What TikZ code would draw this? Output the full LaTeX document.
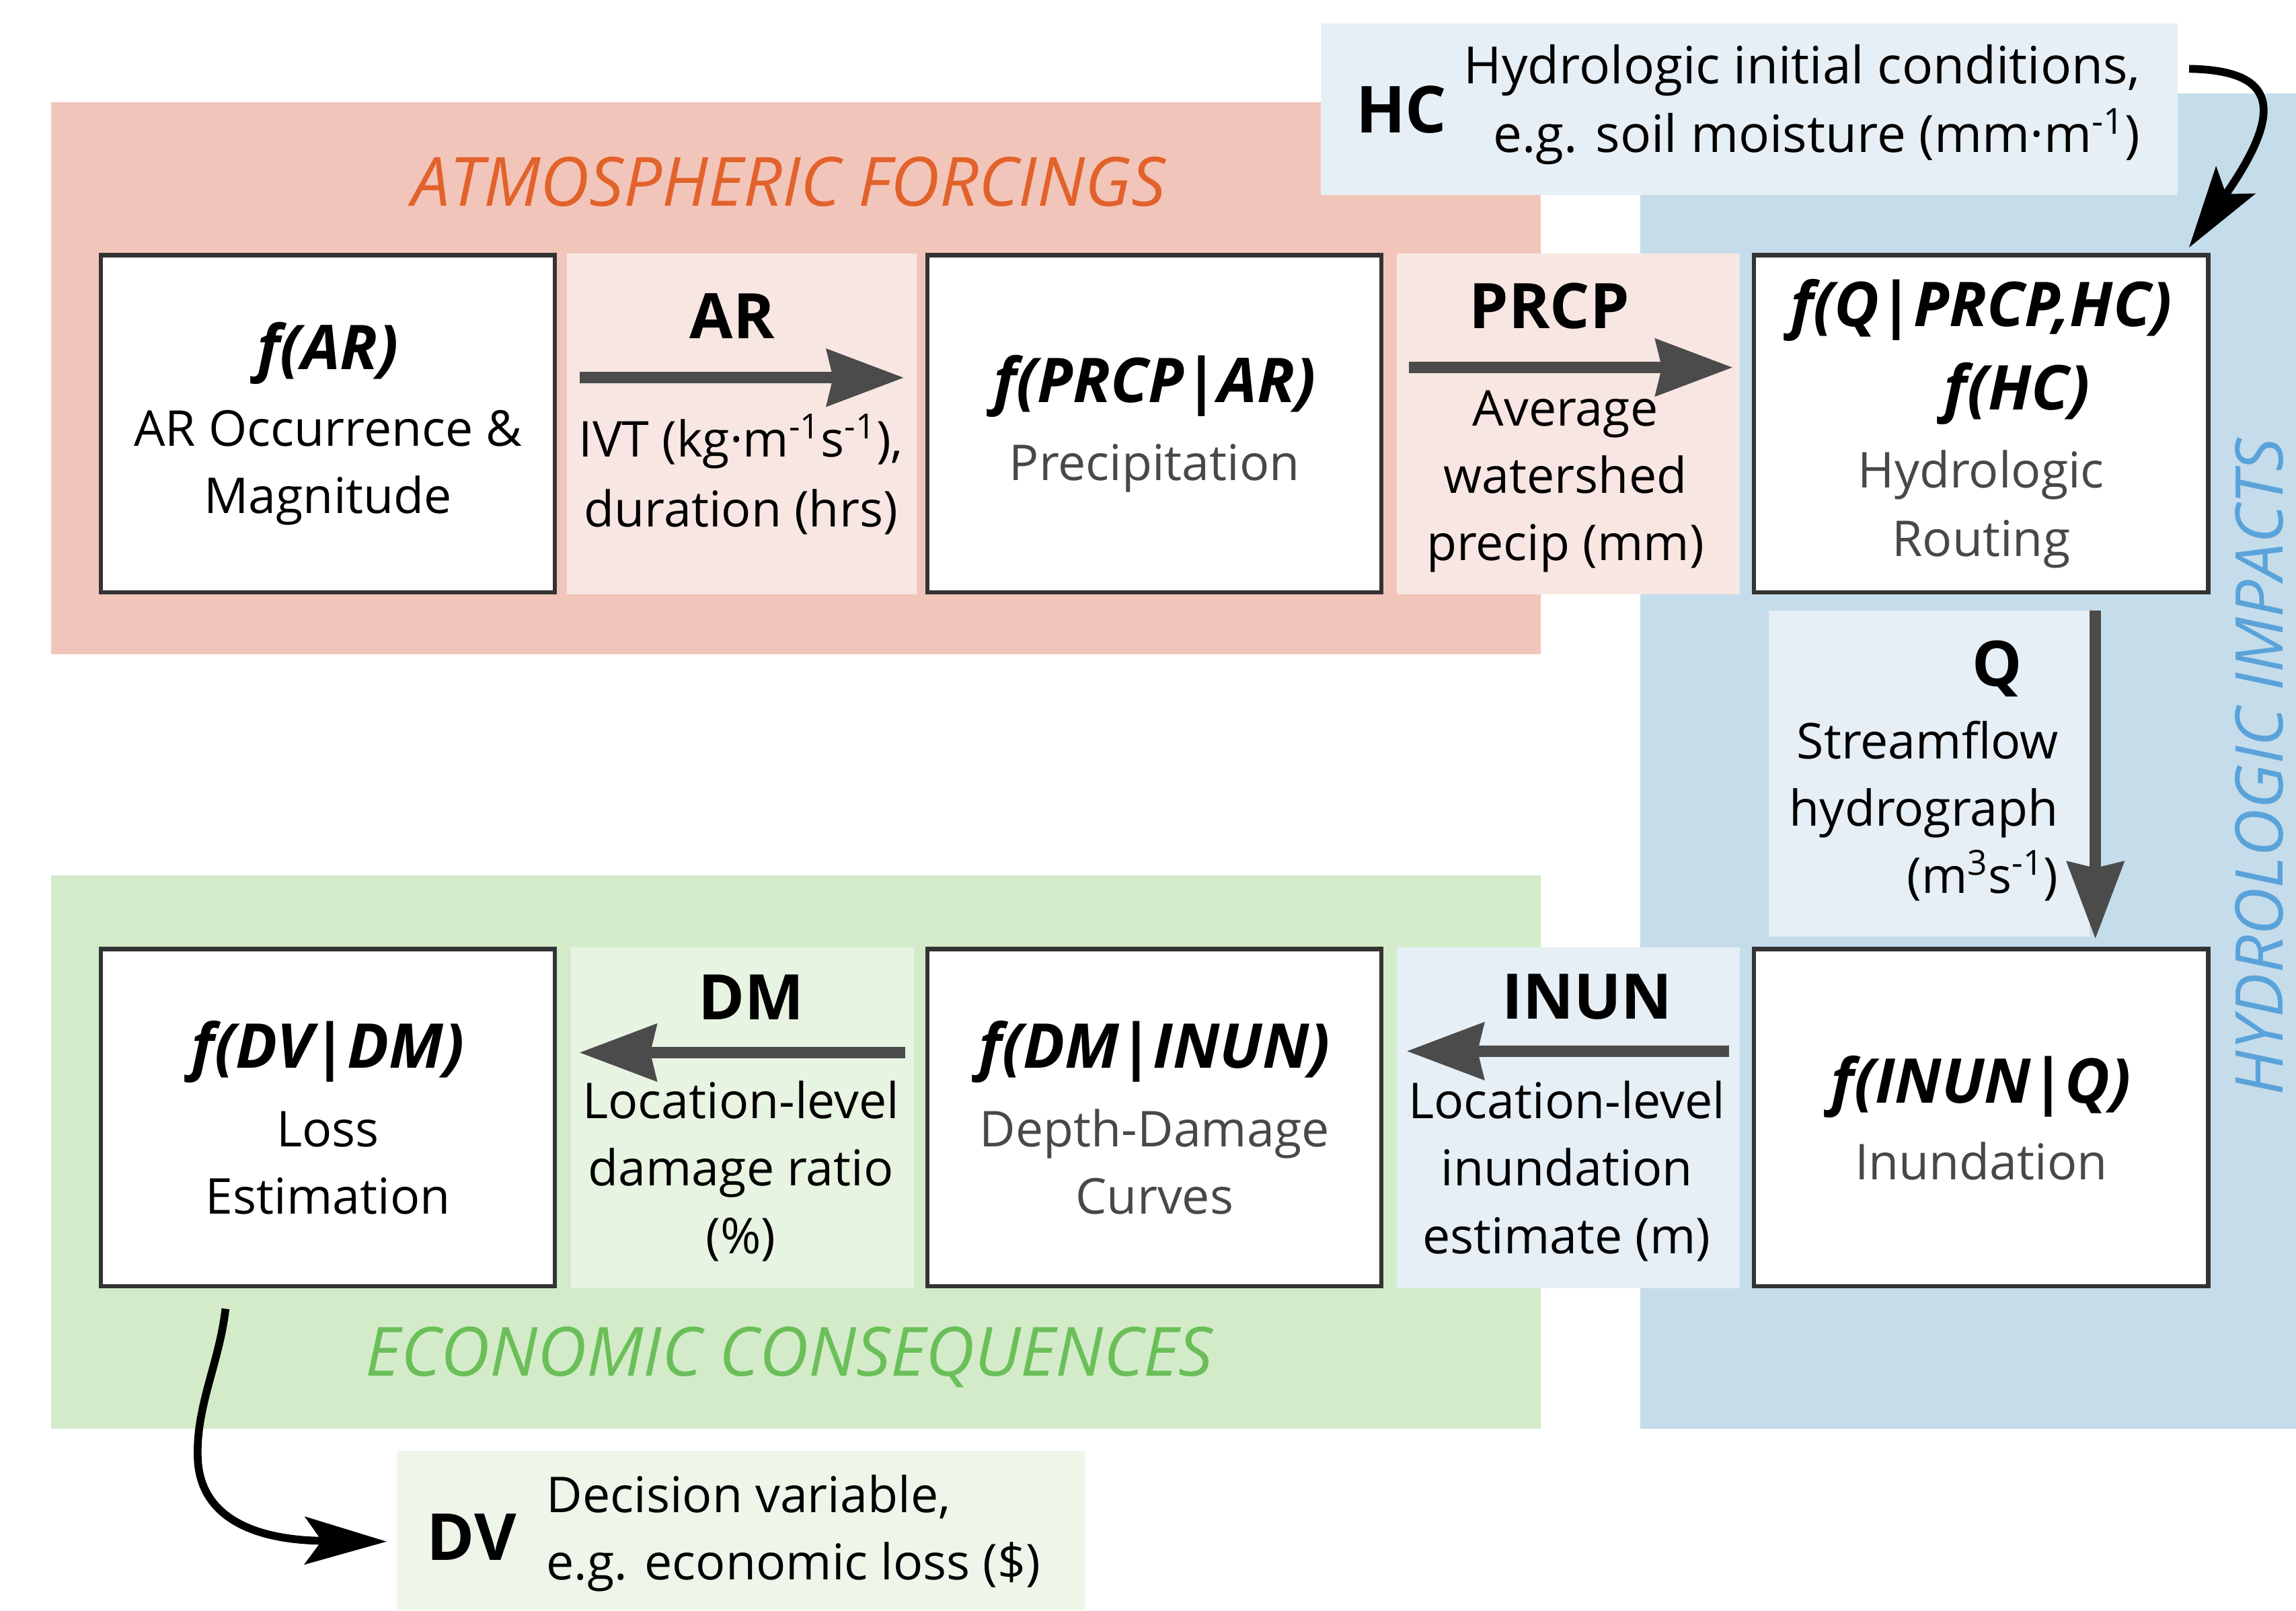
\documentclass[tikz,border=0pt]{standalone}
\usepackage{fontspec}
\setmainfont{Open Sans}
\usetikzlibrary{arrows.meta}

% zone and panel colours
\definecolor{atmoszone}{HTML}{F2C5BA}
\definecolor{atmospanel}{HTML}{F8E6E2}
\definecolor{hydrozone}{HTML}{C5DCEA}
\definecolor{hydropanel}{HTML}{E6EFF5}
\definecolor{econzone}{HTML}{D4EBCA}
\definecolor{econpanel}{HTML}{E8F4E2}
\definecolor{dvpanel}{HTML}{EEF6EA}
% text and line colours
\definecolor{atmostext}{HTML}{E2622B}
\definecolor{hydrotext}{HTML}{5AA3DA}
\definecolor{econtext}{HTML}{6BBF59}
\definecolor{flowgray}{HTML}{4B4B4B}
\definecolor{framegray}{HTML}{333333}
\definecolor{subgray}{HTML}{484848}

\newcommand\titlefnt{\fontsize{30}{34}\selectfont\bfseries\itshape}
\newcommand\zonefnt{\fontsize{33}{38}\selectfont\itshape}
\newcommand\varfnt{\fontsize{30.5}{36}\selectfont\bfseries}
\newcommand\bodyfnt{\fontsize{24}{32.7}\selectfont}

\tikzset{
  fnbox/.style={draw=framegray, line width=2pt, fill=white,
    minimum width=7.75cm, minimum height=5.76cm, inner sep=0pt,
    align=center, font=\bodyfnt},
  varlabel/.style={font=\varfnt, inner sep=0pt},
  desc/.style={font=\bodyfnt, align=center, inner sep=0pt},
  zonetitle/.style={font=\zonefnt, inner sep=0pt},
  flowarrow/.style={draw=flowgray, line width=5.7pt,
    -{Stealth[length=37.7pt, width=28.5pt, inset=3.5pt, line width=0pt]}},
  linkarrow/.style={draw=black, line width=3.8pt,
    -{Stealth[length=40pt, width=23.5pt, inset=8.5pt, line width=0pt]}},
}

\begin{document}
\begin{tikzpicture}[x=0.025cm, y=-0.025cm]
\useasboundingbox (0,0) rectangle (1568,1100);
\fill[white] (0,0) rectangle (1568,1100);

% background zones
\fill[atmoszone] (35,70) rectangle (1052,447);
\fill[hydrozone] (1120,64) rectangle (1568,976);
\fill[econzone] (35,598) rectangle (1052,976);

% input and output boxes
\fill[hydropanel] (902,16) rectangle (1487,133);
\fill[dvpanel] (271,991) rectangle (741,1100);

% variable panels between the function boxes
\fill[atmospanel] (387,173) rectangle (626,406);
\fill[atmospanel] (954,173) rectangle (1188,406);
\fill[hydropanel] (1208,417) rectangle (1427,640);
\fill[econpanel] (390,647) rectangle (624,880);
\fill[hydropanel] (954,647) rectangle (1188,880);

% zone titles
\node[zonetitle, text=atmostext] (tAtmos) at (538.5,124) {ATMOSPHERIC FORCINGS};
\node[zonetitle, text=econtext] (tEcon) at (539,927) {ECONOMIC CONSEQUENCES};
\node[zonetitle, font=\fontsize{32}{38}\selectfont\itshape, text=hydrotext, rotate=90]
  (tHydro) at (1543,524) {HYDROLOGIC IMPACTS};

% function boxes
\node[fnbox] (fAR) at (224,289.5)
  {{\titlefnt f(AR)}\\[4.5pt] AR Occurrence \&\\ Magnitude};
\node[fnbox] (fPRCP) at (788.5,289.5)
  {{\titlefnt f(PRCP|AR)}\\[5pt] {\color{subgray}Precipitation}};
\node[fnbox] (fQ) at (1353,289.5)
  {{\titlefnt f(Q|PRCP,HC)}\\[7.8pt] {\titlefnt\hspace*{35pt}f(HC)}\\[5pt]
   {\color{subgray}Hydrologic}\\[0.7pt] {\color{subgray}Routing}};
\node[fnbox] (fDV) at (224,763.5)
  {{\titlefnt f(DV|DM)}\\[5.5pt] Loss\\ Estimation};
\node[fnbox] (fDM) at (788.5,763.5)
  {{\titlefnt f(DM|INUN)}\\[5.5pt] {\color{subgray}Depth-Damage}\\ {\color{subgray}Curves}};
\node[fnbox] (fINUN) at (1353,763.5)
  {{\titlefnt f(INUN|Q)}\\[4.5pt] {\color{subgray}Inundation}};

% variables passed between boxes
\node[varlabel] (vAR) at (500,216) {AR};
\node[desc, font=\fontsize{24}{34}\selectfont] (dAR) at (506,324)
  {IVT (kg·m\textsuperscript{-1}s\textsuperscript{-1}),\\ duration (hrs)};
\node[varlabel] (vPRCP) at (1058,209) {PRCP};
\node[desc] (dPRCP) at (1069,329) {Average\\ watershed\\ precip (mm)};
\node[varlabel] (vQ) at (1364,457) {Q};
\node[desc, align=right, anchor=east] (dQ) at (1406,554)
  {Streamflow\\ hydrograph\\ (m\textsuperscript{3}s\textsuperscript{-1})};
\node[varlabel] (vDM) at (513,681) {DM};
\node[desc] (dDM) at (506,800) {Location-level\\ damage ratio\\ (\%)};
\node[varlabel] (vINUN) at (1084,681) {INUN};
\node[desc] (dINUN) at (1070,800) {Location-level\\ inundation\\ estimate (m)};

% hydrologic initial conditions
\node[varlabel, font=\fontsize{31.5}{36}\selectfont\bfseries] (vHC) at (957,75) {HC};
\node[desc, align=right, anchor=east, font=\fontsize{25}{33.4}\selectfont] (dHC) at (1462,71.5)
  {Hydrologic initial conditions,\\ e.g. soil moisture (mm·m\textsuperscript{-1})};

% decision variable
\node[varlabel, font=\fontsize{31.5}{36}\selectfont\bfseries] (vDV) at (322,1050) {DV};
\node[desc, align=left, anchor=west] (dDV) at (373,1047.5)
  {Decision variable,\\ e.g. economic loss (\$)};

% flow arrows
\coordinate (arS) at (396,258);   \coordinate (arE) at (617,258);
\coordinate (prS) at (962,251);   \coordinate (prE) at (1183,251);
\coordinate (qS) at (1431,417);   \coordinate (qE) at (1431,641);
\coordinate (inS) at (1181,718);  \coordinate (inE) at (961,718);
\coordinate (dmS) at (618,719);   \coordinate (dmE) at (396,719);
\draw[flowarrow] (arS) -- (arE);
\draw[flowarrow] (prS) -- (prE);
\draw[flowarrow] (qS) -- (qE);
\draw[flowarrow] (inS) -- (inE);
\draw[flowarrow] (dmS) -- (dmE);

% links to the initial conditions and the decision variable
\coordinate (hcS) at (1495,47);   \coordinate (hcE) at (1495,169);
\coordinate (dvS) at (154,894);   \coordinate (dvM) at (135,995);
\coordinate (dvE) at (264,1053);
\draw[linkarrow] (hcS) .. controls (1555,48) and (1560,75) .. (hcE);
\draw[linkarrow] (dvS) .. controls (150,930) and (134,960) .. (dvM)
  .. controls (136,1040) and (180,1052) .. (dvE);
\end{tikzpicture}
\end{document}
